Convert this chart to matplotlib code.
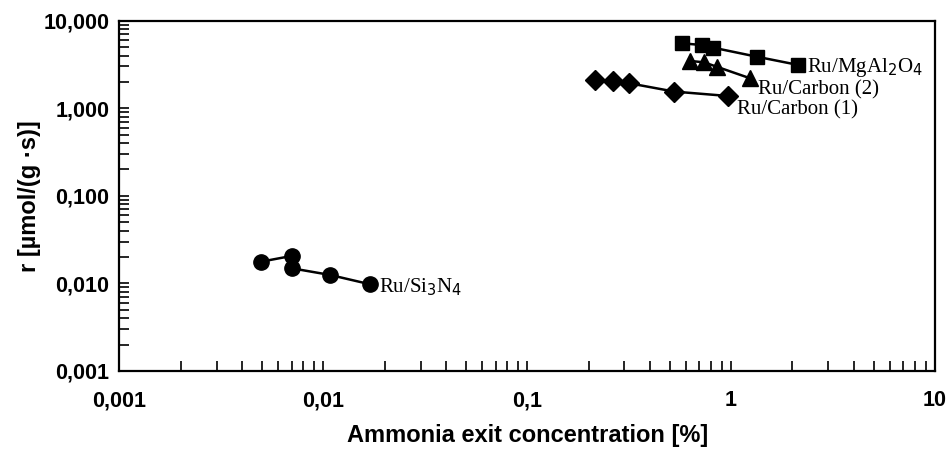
import matplotlib
matplotlib.use("Agg")
import matplotlib.pyplot as plt
from matplotlib.ticker import FixedLocator, FuncFormatter, LogLocator, NullFormatter

# Ammonia exit concentration [%] vs rate r [umol/(g s)]
mgal_x = [0.573, 0.718, 0.818, 1.337, 2.14]
mgal_y = [5.52, 5.28, 4.92, 3.88, 3.12]

carb2_x = [0.63, 0.736, 0.851, 1.24]
carb2_y = [3.47, 3.35, 2.98, 2.20]

carb1_x = [0.215, 0.265, 0.317, 0.527, 0.97]
carb1_y = [2.10, 2.05, 1.93, 1.55, 1.38]

si_x = [0.00495, 0.0070, 0.0070, 0.0108, 0.0169]
si_y = [0.0177, 0.0206, 0.0149, 0.0125, 0.0098]

series = [
    (mgal_x, mgal_y, "s", 10, "Ru/MgAl$_2$O$_4$", (6, -2)),
    (carb2_x, carb2_y, "^", 12, "Ru/Carbon (2)", (6, -8)),
    (carb1_x, carb1_y, "D", 10, "Ru/Carbon (1)", (6, -10)),
    (si_x, si_y, "o", 11, "Ru/Si$_3$N$_4$", (7, -2)),
]

fig = plt.figure(figsize=(9.49, 4.5), dpi=100)
ax = fig.add_axes([119.3 / 949, 1 - 371 / 450, (935 - 119.3) / 949, (371 - 20.7) / 450])

for xs, ys, mk, ms, lab, off in series:
    ax.plot(xs, ys, color="black", lw=1.8, marker=mk, ms=ms, mfc="black", mec="black")
    ax.annotate(lab, (xs[-1], ys[-1]), xytext=off, textcoords="offset points",
                fontsize=15, family="Liberation Serif", va="center", ha="left",
                annotation_clip=False)

ax.set_xscale("log")
ax.set_yscale("log")
ax.set_xlim(0.001, 10)
ax.set_ylim(0.001, 10)

ax.xaxis.set_major_locator(FixedLocator([0.001, 0.01, 0.1, 1, 10]))
ax.yaxis.set_major_locator(FixedLocator([0.001, 0.01, 0.1, 1, 10]))
ax.xaxis.set_minor_locator(LogLocator(base=10, subs=range(2, 10), numticks=20))
ax.yaxis.set_minor_locator(LogLocator(base=10, subs=range(2, 10), numticks=20))
ax.xaxis.set_minor_formatter(NullFormatter())
ax.yaxis.set_minor_formatter(NullFormatter())

xlabels = {0.001: "0,001", 0.01: "0,01", 0.1: "0,1", 1: "1", 10: "10"}
ylabels = {0.001: "0,001", 0.01: "0,010", 0.1: "0,100", 1: "1,000", 10: "10,000"}
ax.xaxis.set_major_formatter(FuncFormatter(lambda v, p: xlabels.get(round(v, 3), "")))
ax.yaxis.set_major_formatter(FuncFormatter(lambda v, p: ylabels.get(round(v, 3), "")))

ax.tick_params(which="both", direction="in", length=7, width=1.2, top=False, right=False)
ax.tick_params(axis="x", which="major", pad=14)
ax.tick_params(axis="y", which="major", pad=7)
for lbl in ax.get_xticklabels() + ax.get_yticklabels():
    lbl.set_fontsize(15.5)
    lbl.set_fontweight("bold")
    lbl.set_family("Liberation Sans")

for sp in ax.spines.values():
    sp.set_linewidth(1.6)

ax.set_xlabel("Ammonia exit concentration [%]", fontsize=17, fontweight="bold",
              family="Liberation Sans", labelpad=9)
ax.set_ylabel("r [\u00b5mol/(g \u00b7s)]", fontsize=17, fontweight="bold",
              family="Liberation Sans", labelpad=2)

fig.savefig("out.png", dpi=100)
